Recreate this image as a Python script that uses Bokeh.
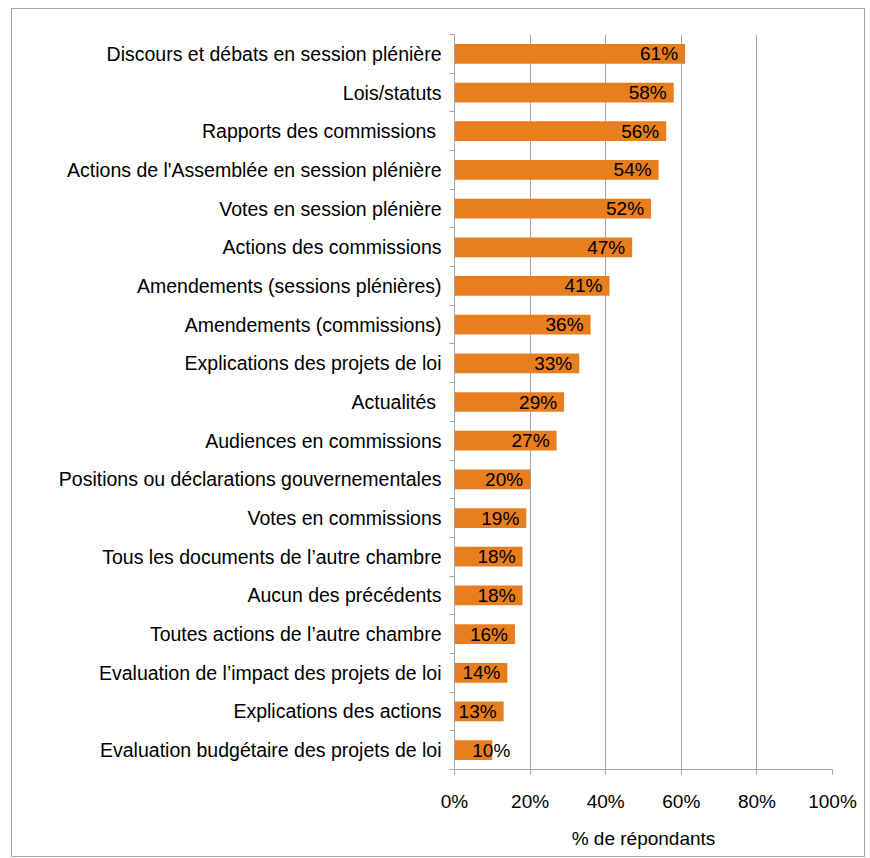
from bokeh.plotting import figure
from bokeh.models import ColumnDataSource, Range1d, FixedTicker, PrintfTickFormatter, LabelSet
from bokeh.core.properties import value
from bokeh.embed import file_html
from bokeh.resources import INLINE

categories = [
    "Discours et débats en session plénière",
    "Lois/statuts",
    "Rapports des commissions ",
    "Actions de l'Assemblée en session plénière",
    "Votes en session plénière",
    "Actions des commissions",
    "Amendements (sessions plénières)",
    "Amendements (commissions)",
    "Explications des projets de loi",
    "Actualités ",
    "Audiences en commissions",
    "Positions ou déclarations gouvernementales",
    "Votes en commissions",
    "Tous les documents de l’autre chambre",
    "Aucun des précédents",
    "Toutes actions de l’autre chambre",
    "Evaluation de l’impact des projets de loi",
    "Explications des actions",
    "Evaluation budgétaire des projets de loi",
]
values = [61, 58, 56, 54, 52, 47, 41, 36, 33, 29, 27, 20, 19, 18, 18, 16, 14, 13, 10]
value_labels = [f"{v}%" for v in values]
x_ticks = [0, 20, 40, 60, 80, 100]
x_title = "% de répondants"

ORANGE = "#E87E1E"
GRAY = "#A6A6A6"
FONT = "Liberation Sans"

n = len(categories)
idx = list(range(n))
offsets = [-7 if v >= 12 else 18 for v in values]

src = ColumnDataSource(dict(y=idx, v=values, lab=value_labels, off=offsets))

W, H = 854, 849
p = figure(width=W, height=H, output_backend="svg", toolbar_location=None,
           x_range=Range1d(0, 100), y_range=Range1d(n - 0.5, -0.5),
           min_border_left=442, min_border_right=34, min_border_top=25, min_border_bottom=89)
p.styles = {"border": "1px solid #A6A6A6", "margin-left": "11px", "margin-top": "8px"}
p.outline_line_color = None

p.hbar(y="y", right="v", left=0, height=0.51, source=src, fill_color=ORANGE, line_color=None)

labels = LabelSet(x="v", y="y", text="lab", x_offset="off", source=src,
                  text_align="right", text_baseline="middle",
                  text_font=value(FONT), text_font_size=value("19px"), text_color="#000000")
p.add_layout(labels)

# axes
p.xaxis.ticker = FixedTicker(ticks=x_ticks)
p.xaxis.formatter = PrintfTickFormatter(format="%d%%")
p.xaxis.axis_line_color = GRAY
p.xaxis.major_tick_line_color = GRAY
p.xaxis.major_tick_out = 5
p.xaxis.major_tick_in = 0
p.xaxis.minor_tick_line_color = None
p.xaxis.major_label_standoff = 16
p.xaxis.major_label_text_font = FONT
p.xaxis.major_label_text_font_size = "19px"
p.xaxis.major_label_text_color = "#000000"
p.xaxis.axis_label = x_title
p.xaxis.axis_label_text_font = FONT
p.xaxis.axis_label_text_font_size = "19px"
p.xaxis.axis_label_text_font_style = "normal"
p.xaxis.axis_label_text_color = "#000000"
p.xaxis.axis_label_standoff = 13

p.yaxis.ticker = FixedTicker(ticks=idx, minor_ticks=[i - 0.5 for i in range(n + 1)])
p.yaxis.major_label_overrides = {i: c for i, c in zip(idx, categories)}
p.yaxis.axis_line_color = GRAY
p.yaxis.major_tick_line_color = None
p.yaxis.major_tick_out = 0
p.yaxis.major_tick_in = 0
p.yaxis.minor_tick_line_color = GRAY
p.yaxis.minor_tick_out = 5
p.yaxis.minor_tick_in = 0
p.yaxis.major_label_standoff = 8
p.yaxis.major_label_text_font = FONT
p.yaxis.major_label_text_font_size = "19.5px"
p.yaxis.major_label_text_color = "#000000"

p.xgrid.ticker = FixedTicker(ticks=x_ticks[1:])
p.xgrid.grid_line_color = GRAY
p.ygrid.grid_line_color = None

open("out.html", "w").write(file_html(p, INLINE))
